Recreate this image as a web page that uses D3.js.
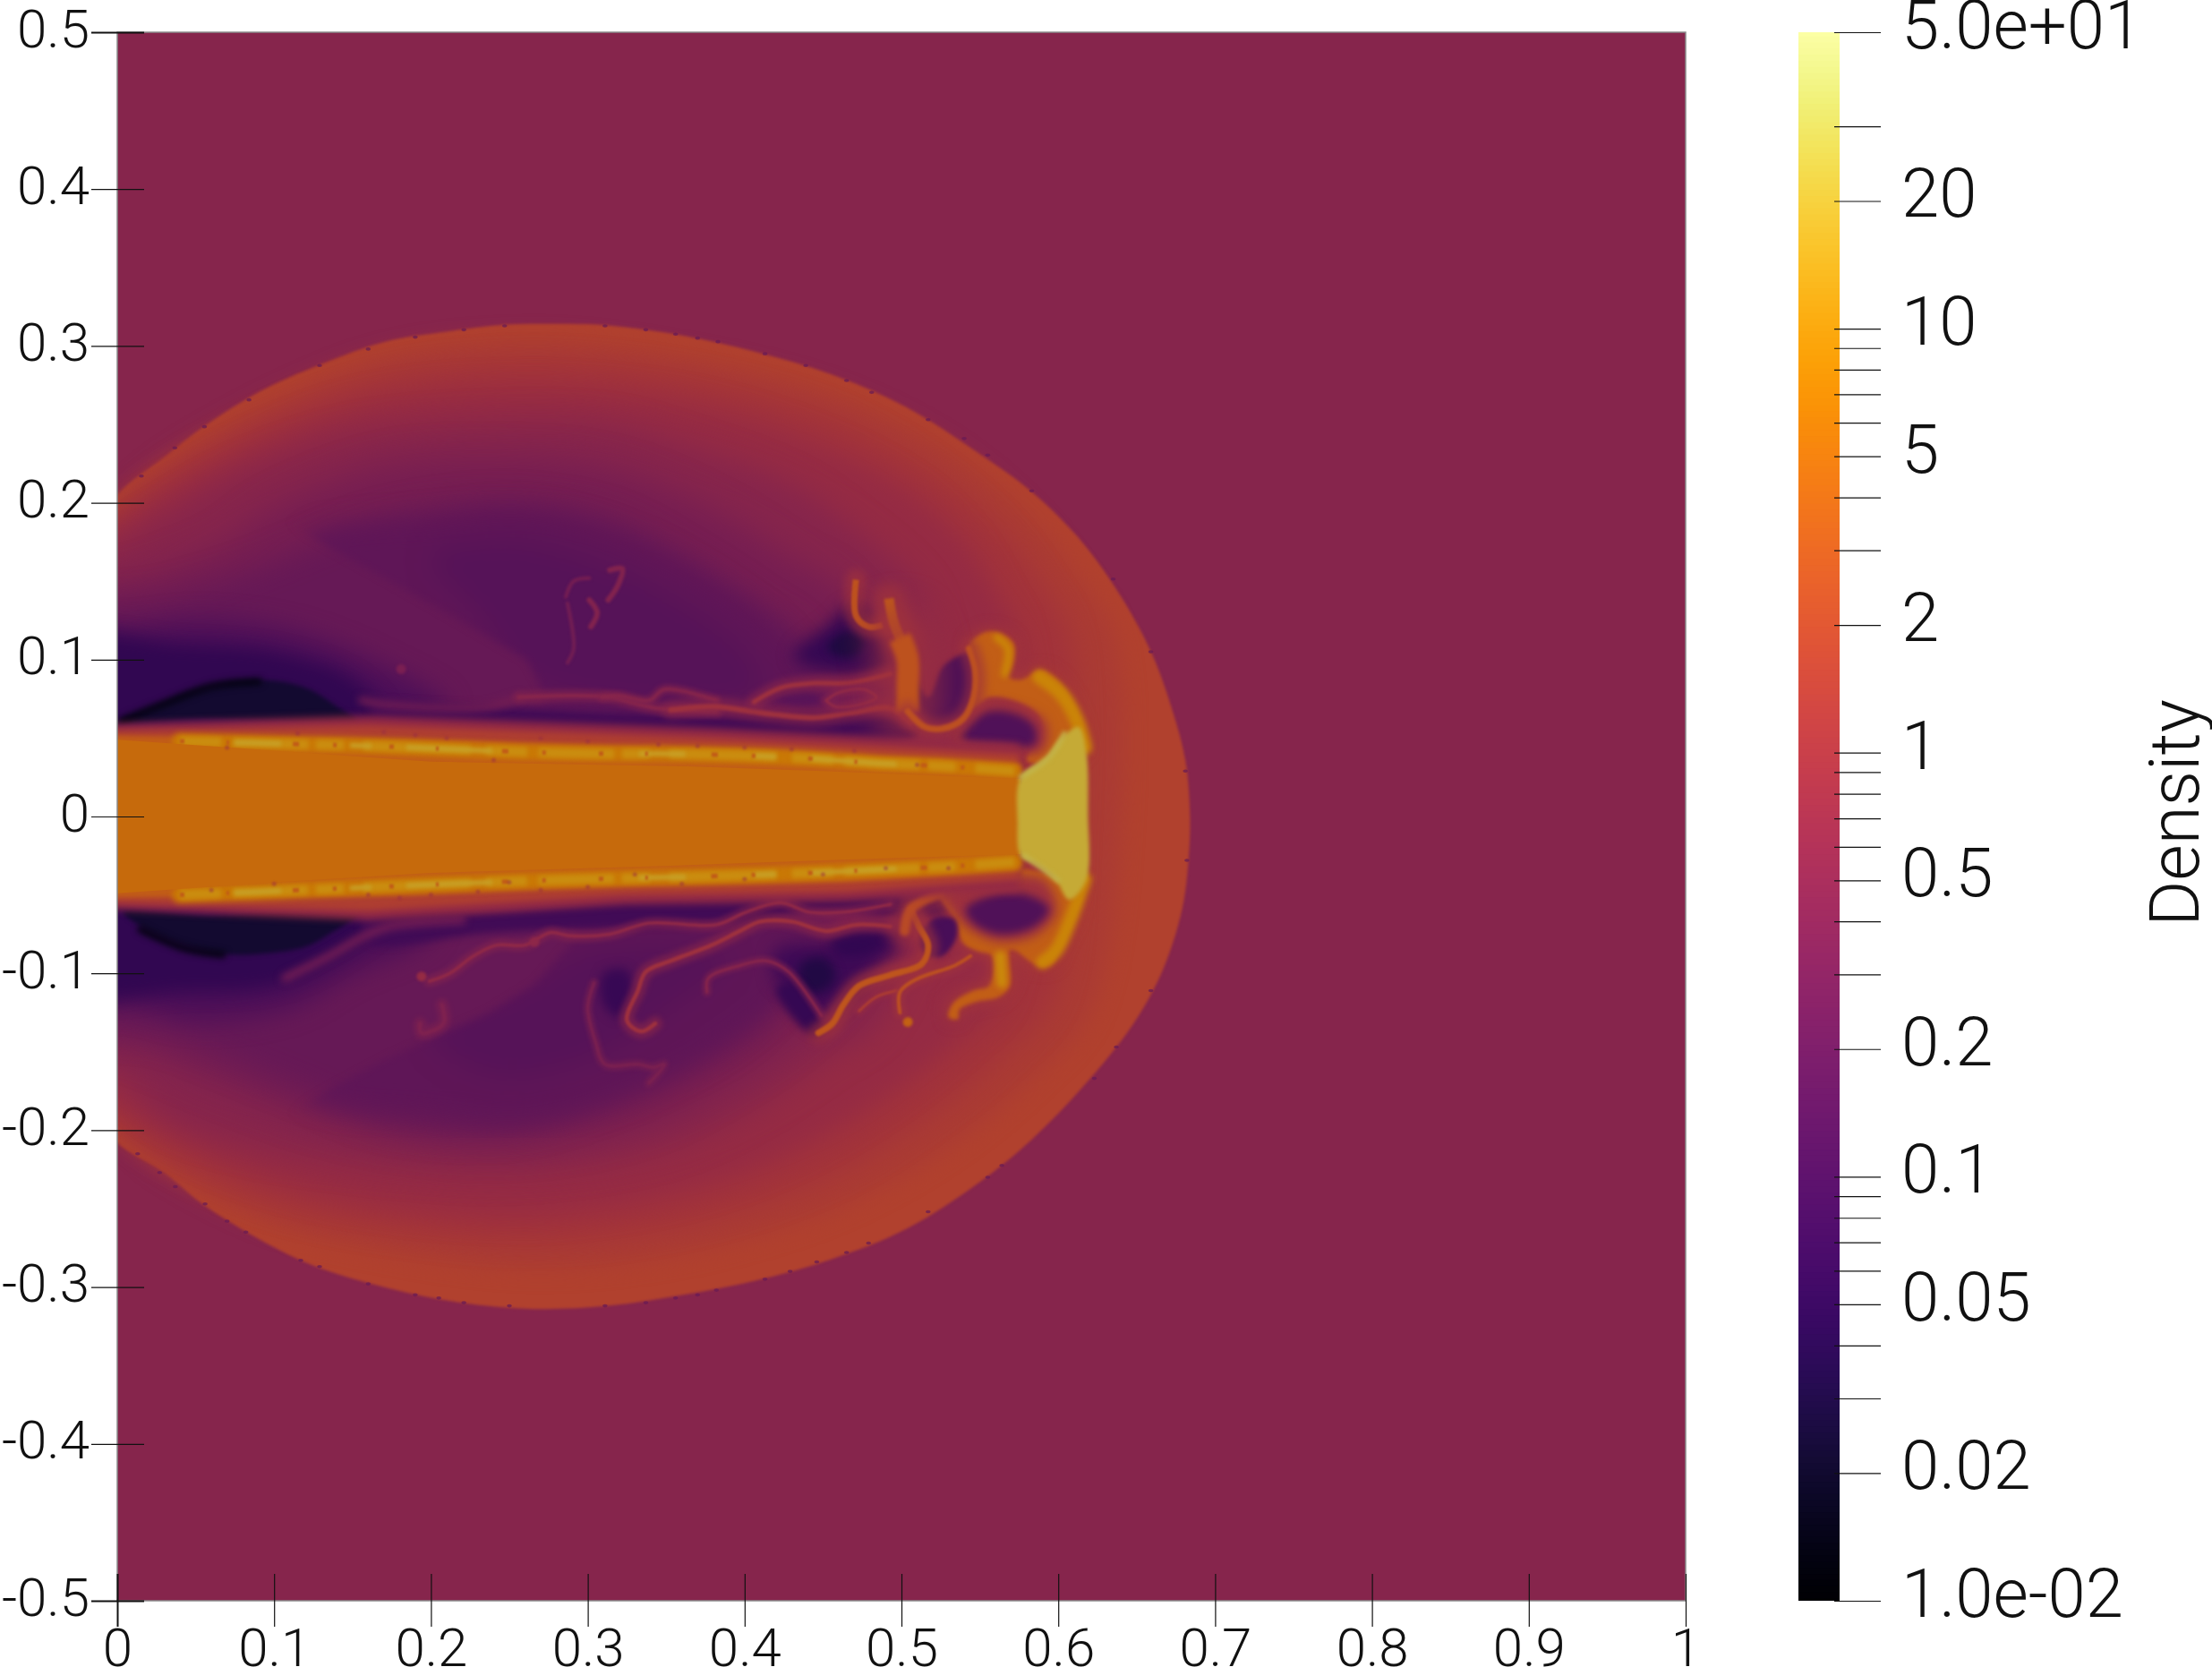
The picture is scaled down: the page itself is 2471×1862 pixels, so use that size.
<!DOCTYPE html>
<html><head><meta charset="utf-8">
<script src="https://cdn.jsdelivr.net/npm/d3@7"></script>
<style>html,body{margin:0;background:#fff}svg{display:block}text{font-family:Roboto,sans-serif;font-weight:300;fill:#111}</style>
</head><body><div id="c"></div>
<script>
// ---- axes / legend values ----
const xTickValues=[0,.1,.2,.3,.4,.5,.6,.7,.8,.9,1];
const yTickValues=[.5,.4,.3,.2,.1,0,-.1,-.2,-.3,-.4,-.5];
const colorTickValues=[50,30,20,10,9,8,7,6,5,4,3,2,1,.9,.8,.7,.6,.5,.4,.3,.2,.1,.09,.08,.07,.06,.05,.04,.03,.02,.01];
const colorLabelValues=[50,20,10,5,2,1,.5,.2,.1,.05,.02,.01];
const colorLabelText=["5.0e+01","20","10","5","2","1","0.5","0.2","0.1","0.05","0.02","1.0e-02"];
// ---- density ----
const ambientDensity=.46;
const shockFront=[[-.03,.16],[0,.205],[.03,.229],[.053,.247],[.091,.271],[.129,.288],[.172,.303],[.209,.309],[.247,.3135],[.285,.314],[.313,.313],[.361,.3065],[.408,.296],[.455,.282],[.503,.261],[.55,.231],[.583,.207],[.616,.174],[.642,.137],[.66,.103],[.672,.07],[.681,.036],[.684,0],[.683,-.028],[.679,-.059],[.667,-.097],[.648,-.132],[.616,-.172],[.583,-.206],[.55,-.233],[.503,-.263],[.455,-.2824],[.408,-.2957],[.361,-.305],[.313,-.312],[.266,-.314],[.219,-.31],[.172,-.3005],[.124,-.286],[.086,-.267],[.053,-.246],[.03,-.227],[0,-.208],[-.03,-.17]];
const shockSpecks=[[.0154,.217],[.0367,.235],[.0556,.2485],[.084,.2656],[.129,.2875],[.16,.298],[.19,.3056],[.221,.3103],[.247,.3128],[.311,.3128],[.337,.3103],[.356,.3075],[.37,.305],[.383,.3027],[.413,.295],[.439,.2875],[.465,.278],[.481,.2704],[.517,.253],[.54,.241],[.555,.2304],[.583,.2076],[.635,.1514],[.659,.105],[.681,.029],[.682,-.028],[.659,-.111],[.637,-.147],[.623,-.167],[.564,-.2225],[.555,-.23],[.517,-.252],[.479,-.272],[.465,-.278],[.446,-.284],[.429,-.29],[.413,-.295],[.382,-.302],[.37,-.305],[.356,-.307],[.337,-.31],[.311,-.312],[.25,-.312],[.221,-.31],[.205,-.307],[.19,-.305],[.16,-.298],[.129,-.287],[.117,-.283],[.082,-.265],[.07,-.258],[.056,-.247],[.037,-.236],[.027,-.227],[.013,-.215]];
const iso130=[[-.03,.17],[0,.2],[.03,.226],[.1,.266],[.171,.294],[.266,.304],[.361,.294],[.455,.271],[.526,.237],[.583,.19],[.616,.148],[.635,.117],[.64,0],[.621,-.124],[.583,-.168],[.526,-.214],[.455,-.252],[.361,-.279],[.266,-.288],[.171,-.277],[.1,-.26],[.03,-.225],[0,-.2],[-.03,-.18]];
const iso100=[[-.03,.17],[0,.195],[.034,.22],[.1,.256],[.171,.281],[.266,.29],[.361,.281],[.455,.256],[.517,.222],[.564,.182],[.592,.144],[.607,.117],[.61,0],[.597,-.115],[.564,-.153],[.517,-.191],[.455,-.229],[.361,-.26],[.266,-.271],[.171,-.263],[.1,-.248],[.039,-.222],[0,-.197],[-.03,-.175]];
const iso70=[[-.03,.165],[0,.186],[.039,.212],[.1,.243],[.171,.266],[.266,.273],[.361,.264],[.455,.235],[.512,.203],[.545,.169],[.564,.136],[.574,.117],[.58,0],[.564,-.115],[.54,-.14],[.493,-.178],[.432,-.214],[.361,-.24],[.266,-.254],[.171,-.248],[.1,-.233],[.039,-.208],[0,-.185],[-.03,-.165]];
const iso46=[[-.03,.155],[.001,.174],[.039,.197],[.077,.218],[.148,.243],[.242,.252],[.313,.25],[.361,.237],[.432,.21],[.479,.176],[.503,.155],[.517,.136],[.53,0],[.484,-.134],[.455,-.153],[.408,-.185],[.361,-.208],[.313,-.22],[.242,-.227],[.148,-.22],[.077,-.208],[.03,-.191],[0,-.165],[-.03,-.15]];
const iso30=[[-.03,.135],[.02,.155],[.067,.174],[.1,.197],[.171,.224],[.242,.229],[.313,.222],[.384,.193],[.432,.163],[.455,.151],[.48,.12],[.5,0],[.47,-.1],[.432,-.14],[.384,-.172],[.337,-.195],[.266,-.21],[.195,-.208],[.124,-.193],[.067,-.172],[.011,-.149],[-.03,-.135]];
const iso24=[[-.03,.125],[.03,.14],[.08,.155],[.13,.175],[.171,.19],[.247,.2],[.313,.19],[.361,.165],[.408,.135],[.44,.11],[.46,0],[.43,-.1],[.399,-.138],[.351,-.165],[.304,-.185],[.247,-.2],[.171,-.195],[.12,-.175],[.07,-.155],[.03,-.14],[-.03,-.125]];
const wedgeUpper=[[.12,.175],[.2,.19],[.26,.195],[.32,.18],[.38,.15],[.43,.11],[.45,.07],[.25,.07]];
const wedgeUpperInner=[[.2,.165],[.25,.175],[.31,.16],[.36,.135],[.4,.105],[.41,.08],[.27,.085],[.23,.13]];
const wedgeUpperEdge=[[.09,.2],[.096,.193],[.171,.152],[.227,.12],[.261,.1],[.27,.083],[.275,.05],[.6,.05],[.6,.3],[.09,.3]];
const wedgeLower=[[.12,-.175],[.2,-.19],[.26,-.195],[.32,-.18],[.38,-.15],[.43,-.11],[.45,-.07],[.27,-.07]];
const wedgeLowerInner=[[.2,-.14],[.24,-.165],[.3,-.155],[.35,-.125],[.39,-.09],[.3,-.085],[.26,-.11]];
const wedgeLowerEdge=[[.09,-.2],[.096,-.195],[.171,-.155],[.237,-.125],[.266,-.107],[.29,-.08],[.3,-.05],[.6,-.05],[.6,-.3],[.09,-.3]];
const cavityHaloUpper=[[-.03,.125],[0,.12],[.05,.125],[.11,.118],[.17,.095],[.21,.07],[.2,.055],[-.03,.05]];
const cavityDarkUpper=[[-.03,.112],[.04,.11],[.1,.105],[.15,.088],[.17,.065],[.16,.05],[-.03,.05]];
const cavityCoreUpper=[[0,.06],[.02,.068],[.05,.08],[.09,.087],[.12,.082],[.14,.07],[.153,.06],[.1,.061],[.05,.062]];
const cavityStripeUpper=[[.003,.061],[.03,.072],[.06,.083],[.09,.086]];
const cavityHaloLower=[[-.03,-.125],[0,-.12],[.05,-.13],[.11,-.122],[.15,-.1],[.2,-.075],[.2,-.055],[-.03,-.05]];
const cavityDarkLower=[[-.03,-.112],[.04,-.112],[.1,-.108],[.14,-.09],[.17,-.065],[.16,-.05],[-.03,-.05]];
const cavityCoreLower=[[.004,-.061],[.015,-.07],[.043,-.082],[.072,-.088],[.097,-.087],[.12,-.083],[.135,-.075],[.153,-.062],[.11,-.061],[.059,-.063]];
const cavityStripeLower=[[.015,-.072],[.043,-.084],[.067,-.088]];
const cocoonUpper=[[.161,.07],[.237,.07],[.314,.066],[.353,.065],[.397,.064],[.441,.065],[.495,.064],[.51,.053],[.497,.046],[.419,.046],[.353,.049],[.25,.053],[.17,.06]];
const cocoonLower=[[.158,-.062],[.237,-.06],[.353,-.05],[.46,-.046],[.53,-.046],[.53,-.06],[.44,-.06],[.41,-.066],[.35,-.069],[.24,-.074],[.16,-.08]];
const darkU1=[[.431,.102],[.453,.122],[.47,.135],[.487,.118],[.49,.095],[.453,.092]];
const darkU2=[[.453,.108],[.465,.118],[.476,.113],[.472,.103],[.46,.102]];
const lensU=[[.419,.076],[.441,.08],[.447,.073],[.43,.07]];
const darkL2=[[.42,-.085],[.45,-.08],[.49,-.07],[.5,-.08],[.48,-.1],[.46,-.12],[.445,-.128],[.44,-.115],[.42,-.105]];
const darkL1=[[.435,-.095],[.45,-.09],[.458,-.1],[.453,-.11],[.44,-.112]];
const darkL3=[[.455,-.08],[.475,-.075],[.49,-.078],[.48,-.087],[.46,-.088]];
const darkL4=[[.42,-.11],[.432,-.105],[.45,-.132],[.447,-.14],[.437,-.135]];
const darkL5=[[.31,-.1],[.325,-.098],[.328,-.115],[.32,-.128],[.31,-.12]];
const mantleUpper=[[.543,.109],[.556,.118],[.571,.111],[.571,.098],[.568,.089],[.576,.087],[.589,.093],[.6,.086],[.607,.076],[.613,.062],[.616,.043],[.594,.034],[.58,.036],[.589,.053],[.587,.065],[.572,.074],[.556,.076],[.546,.069],[.548,.083],[.546,.102]];
const mantleLower=[[.613,-.049],[.609,-.066],[.602,-.08],[.596,-.094],[.587,-.095],[.572,-.085],[.569,-.085],[.569,-.108],[.562,-.115],[.548,-.118],[.537,-.123],[.536,-.129],[.53,-.128],[.533,-.119],[.546,-.111],[.556,-.108],[.558,-.089],[.546,-.085],[.539,-.08],[.535,-.066],[.524,-.048],[.58,-.034]];
const pocketUpper=[[.508,.088],[.517,.076],[.526,.095],[.532,.1],[.543,.104],[.546,.083],[.541,.067],[.528,.059],[.516,.06],[.509,.069]];
const pocketLower=[[.522,-.064],[.534,-.066],[.535,-.077],[.526,-.089],[.517,-.089],[.512,-.082],[.513,-.073]];
const lobeHeadUpper=[[.536,.052],[.552,.072],[.574,.07],[.592,.06],[.59,.042],[.563,.04],[.534,.044]];
const cocoonHeadUpper=[[.541,.057],[.556,.067],[.574,.065],[.585,.057],[.585,.046],[.563,.046],[.539,.049]];
const lobeHeadLower=[[.528,-.05],[.56,-.04],[.59,-.04],[.599,-.06],[.587,-.075],[.563,-.08],[.545,-.073],[.534,-.063]];
const cocoonHeadLower=[[.541,-.059],[.563,-.049],[.583,-.051],[.594,-.059],[.585,-.07],[.563,-.075],[.546,-.068]];
const swirlLower=[[.53,-.108],[.55,-.108],[.54,-.12],[.525,-.125],[.52,-.118]];
// filaments
const fingerA=[[.471,.151],[.471,.128],[.479,.121],[.488,.122]];
const fingerTop=[[.492,.139],[.495,.124],[.5,.112]];
const fingerStem=[[.499,.114],[.504,.1],[.504,.083],[.504,.067]];
const fingerArc=[[.504,.067],[.515,.057],[.526,.056],[.539,.062],[.546,.076],[.547,.093],[.543,.107]];
const wispU1=[[.256,.076],[.288,.077],[.314,.076],[.344,.069],[.382,.067]];
const wispU2=[[.309,.076],[.319,.077],[.339,.074],[.349,.081],[.382,.074]];
const wakeU=[[.156,.074],[.174,.071],[.237,.07],[.256,.076]];
const wakeL=[[.107,-.103],[.135,-.089],[.158,-.076],[.174,-.07],[.22,-.066]];
const filU1=[[.353,.068],[.38,.07],[.404,.067],[.419,.065],[.445,.063],[.467,.066],[.493,.069],[.506,.06]];
const filU2=[[.406,.073],[.423,.082],[.445,.085],[.467,.085],[.493,.091]];
const filU3=[[.452,.074],[.46,.079],[.476,.081],[.484,.076],[.476,.072],[.458,.07],[.452,.074]];
const curlU1=[[.286,.14],[.291,.15],[.301,.152]];
const curlU2=[[.301,.138],[.306,.13],[.302,.121]];
const curlU3=[[.287,.136],[.291,.107],[.287,.098]];
const curlU4=[[.314,.157],[.322,.158],[.319,.147],[.313,.138]];
const filLa=[[.199,-.105],[.212,-.1],[.227,-.089],[.242,-.082],[.26,-.082],[.276,-.074],[.288,-.076],[.314,-.075],[.339,-.068],[.382,-.069],[.401,-.061],[.423,-.055],[.441,-.061],[.463,-.061],[.493,-.056]];
const filLc=[[.343,-.132],[.334,-.137],[.325,-.13],[.332,-.111],[.337,-.099],[.353,-.092],[.379,-.082],[.397,-.073],[.41,-.067],[.43,-.067],[.452,-.073],[.471,-.069],[.493,-.07]];
const filL3=[[.376,-.112],[.377,-.103],[.397,-.095],[.414,-.092],[.428,-.099],[.449,-.127]];
const filL4=[[.447,-.138],[.456,-.132],[.463,-.12],[.473,-.108],[.493,-.101],[.513,-.094],[.517,-.082],[.511,-.07],[.506,-.059]];
const filL4b=[[.502,-.073],[.506,-.059],[.524,-.049]];
const filL5=[[.499,-.125],[.499,-.112],[.509,-.104],[.534,-.095],[.544,-.089]];
const filL6=[[.473,-.124],[.484,-.115],[.497,-.111]];
const filL7=[[.304,-.106],[.3,-.122],[.305,-.144],[.311,-.158],[.332,-.158],[.342,-.16],[.349,-.158],[.339,-.17]];
const curlL=[[.207,-.12],[.208,-.132],[.194,-.138],[.193,-.132]];
const blobs=[[.181,.094,.33],[.194,-.102,.7],[.504,-.131,4],[.266,-.08,.55]];
// jet
const sheathOuter=[[-.03,.058],[.16,.064],[.38,.056],[.575,.046],[.575,-.048],[.464,-.054],[.324,-.056],[.16,-.066],[-.03,-.058]];
const sheathRed=[[-.03,.054],[.16,.058],[.38,.05],[.575,.04],[.575,-.04],[.464,-.048],[.324,-.05],[.16,-.06],[-.03,-.054]];
const sheathOrange=[[-.03,.052],[.186,.049],[.38,.043],[.575,.033],[.575,-.034],[.464,-.0415],[.324,-.044],[.186,-.05],[-.03,-.052]];
const stripeUpper=[[.04,.048],[.12,.046],[.161,.045],[.212,.043],[.263,.041],[.314,.04],[.353,.04],[.397,.039],[.441,.037],[.484,.034],[.528,.032],[.572,.029]];
const stripeLower=[[.04,-.05],[.115,-.047],[.212,-.043],[.263,-.041],[.339,-.039],[.382,-.038],[.441,-.036],[.484,-.034],[.528,-.032],[.572,-.029]];
const sheathSpecks=[[.07,.044],[.115,.053],[.17,.054],[.19,.052],[.21,.05],[.24,.036],[.27,.05],[.3,.048],[.345,.046],[.37,.045],[.4,.044],[.43,.043],[.47,.042],[.51,.033],[.06,-.047],[.1,-.043],[.16,-.05],[.18,-.052],[.2,-.05],[.23,-.048],[.25,-.042],[.27,-.047],[.3,-.045],[.33,-.037],[.36,-.043],[.4,-.04],[.45,-.037],[.49,-.033],[.53,-.033]];
const jetCore=[[0,.049],[.1,.042],[.2,.035],[.364,.032],[.45,.029],[.576,.024],[.576,-.024],[.45,-.028],[.364,-.031],[.2,-.036],[.1,-.042],[0,-.049]];
const jetHead=[[.576,.025],[.593,.038],[.602,.05],[.613,.057],[.618,.04],[.619,.002],[.618,-.04],[.607,-.053],[.598,-.04],[.585,-.03],[.576,-.025],[.574,-.003]];
const hotspotU=[[.576,.025],[.594,.038],[.604,.053]];
const hotspotL=[[.578,-.025],[.591,-.034],[.6,-.041]];
const rimUpper=[[.588,.089],[.602,.078],[.612,.061],[.617,.044]];
const rimLower=[[.617,-.04],[.607,-.068],[.599,-.085],[.59,-.093]];
const brightU2=[[.561,.114],[.568,.107],[.566,.091]];
const brightL2=[[.563,-.089],[.564,-.106]];

// ---- layout ----
const W=2471,H=1862,L=131,R=1883,T=36,B=1788;
const x=d3.scaleLinear().domain([0,1]).range([L,R]);
const y=d3.scaleLinear().domain([.5,-.5]).range([T,B]);
const cy=d3.scaleLog().domain([50,.01]).range([T,B]);
const ct=d3.scaleLog().domain([.01,50]).range([0,1]);
const shade=.8;
const fieldColor=d=>{const c=d3.rgb(d3.interpolateInferno(ct(d)));return d3.rgb(c.r*shade,c.g*shade,c.b*shade).formatRgb();};
const svg=d3.select("#c").append("svg").attr("width",W).attr("height",H);
const defs=svg.append("defs");
defs.append("clipPath").attr("id","plot").append("rect").attr("x",L).attr("y",T).attr("width",R-L).attr("height",B-T);
function blurId(b){
  const id="b"+String(b).replace(".","_");
  if(defs.select("#"+id).empty()){
    defs.append("filter").attr("id",id).attr("filterUnits","userSpaceOnUse").attr("x",0).attr("y",0).attr("width",W).attr("height",H)
      .attr("color-interpolation-filters","sRGB").append("feGaussianBlur").attr("stdDeviation",b);
  }
  return "url(#"+id+")";
}
const field=svg.append("g").attr("clip-path","url(#plot)");
field.append("rect").attr("x",L).attr("y",T).attr("width",R-L).attr("height",B-T).attr("fill",fieldColor(ambientDensity));
const closed=d3.line().x(d=>x(d[0])).y(d=>y(d[1])).curve(d3.curveCatmullRomClosed.alpha(.5));
const sharp=d3.line().x(d=>x(d[0])).y(d=>y(d[1])).curve(d3.curveLinearClosed);
const open=d3.line().x(d=>x(d[0])).y(d=>y(d[1])).curve(d3.curveCatmullRom.alpha(.5));
function band(pts,dens,blur,gen=closed,host=field){
  const p=host.append("path").attr("d",gen(pts)).attr("fill",fieldColor(dens));
  if(blur)p.attr("filter",blurId(blur));
}
function wisp(pts,dens,w,blur=1,cap="round",dash=null,op=1){
  const p=field.append("path").attr("d",open(pts)).attr("fill","none").attr("stroke",fieldColor(dens))
    .attr("stroke-width",w).attr("stroke-linecap",cap).attr("stroke-linejoin","round").attr("filter",blurId(blur)).attr("opacity",op);
  if(dash)p.attr("stroke-dasharray",dash);
}
function halo(a){ // soft fringe first, then the filament itself
  wisp(a[0],Math.sqrt(a[1]*.35),a[2]*3+2,Math.max(2,a[2]*.7),"round",null,.6);
  wisp(...a);
}
function edged(id,edge,layers){
  defs.append("clipPath").attr("id",id).append("path").attr("d",sharp(edge));
  const outer=field.append("g").attr("filter",blurId(4));
  const inner=outer.append("g").attr("clip-path","url(#"+id+")");
  layers.forEach(l=>band(l[0],l[1],l[2],closed,inner));
}
// layered field, outer to inner
band(shockFront,1.66,1.5);
band(iso130,1.35,12);band(iso100,1.0,14);band(iso70,.7,15);band(iso46,.46,16);band(iso30,.3,17);band(iso24,.2,16);
edged("eu",wedgeUpperEdge,[[wedgeUpper,.165,13],[wedgeUpperInner,.13,14]]);
edged("el",wedgeLowerEdge,[[wedgeLower,.165,13],[wedgeLowerInner,.13,14]]);
band(cavityHaloUpper,.1,14);band(cavityDarkUpper,.05,10);band(cavityHaloLower,.1,14);band(cavityDarkLower,.05,10);
band(cocoonUpper,.075,4);band(cocoonLower,.075,4);
band(darkU1,.055,9);band(darkU2,.033,5);band(lensU,.14,3);
band(darkL2,.07,9);band(darkL1,.035,6);band(darkL3,.05,6);band(darkL4,.055,5);band(darkL5,.06,6);
band(cavityCoreUpper,.024,2.5);band(cavityCoreLower,.024,2.5);
wisp(cavityStripeUpper,.014,8,3.5);wisp(cavityStripeLower,.014,8,3.5);
[[wakeU,.28,8,4],[wakeL,.27,9,4],[curlU1,.3,4,1.5],[curlU2,.42,6,1.5],[curlU3,.28,4,1.5],[curlU4,.42,6,1.5]].forEach(a=>wisp(...a));
[[wispU1,.5,4,1.5],[wispU2,.5,3,1.5],[filU1,.9,6,1.5],[filU2,.9,5,1.5],[filU3,.6,3,1],[filLa,.6,3.5,1],[filLc,.9,4.5,1],[filL3,.5,2.5,1],[filL7,.36,2.5,1],[curlL,.4,4,1.5],[filL6,1.5,3,.8]].forEach(halo);
blobs.forEach(b=>field.append("circle").attr("cx",x(b[0])).attr("cy",y(b[1])).attr("r",5.5).attr("fill",fieldColor(b[2])).attr("filter",blurId(1.5)));
band(swirlLower,.7,3);
band(mantleUpper,1.5,9);band(mantleLower,1.5,9);
band(mantleUpper,3.8,2);band(mantleLower,3.8,2);
band(lobeHeadUpper,.9,6);band(lobeHeadLower,.9,6);
band(cocoonHeadUpper,.11,5);band(cocoonHeadLower,.11,5);
band(pocketUpper,.09,2.5);band(pocketLower,.09,2.5);
[[fingerA,2.8,7,1.2,"butt"],[fingerTop,3.6,11,1.5,"butt"],[fingerStem,2.8,25,2.5,"butt"],[fingerArc,2.6,7,1.5],[filL4,3,7,1.2],[filL4b,2.2,11,2],[filL5,2.6,4,1]].forEach(halo);
[[rimUpper,9,16,3],[rimLower,9,15,3],[brightU2,9,9,3],[brightL2,10,12,3]].forEach(a=>wisp(...a));
band(sheathOuter,.7,4,sharp);band(sheathRed,1.5,3,sharp);band(sheathOrange,3.6,2.5,sharp);
[stripeUpper,stripeLower].forEach(s=>{
  wisp(s,7,18,3);
  wisp(s,11,10,2.5,"butt","46 13 84 9 31 22 120 17");
  wisp(s,17,5,2,"butt","0 61 52 77 24 39 96 103");
  wisp(s,3.5,5,1.2,"butt","5 47 3 71 7 38 4 59");
});
band(jetCore,5.2,.5,sharp);
field.append("g").selectAll("circle").data(sheathSpecks).join("circle").attr("cx",d=>x(d[0])).attr("cy",d=>y(d[1])).attr("r",2.5)
  .attr("fill",fieldColor(.8)).attr("opacity",.5).attr("filter",blurId(.8));
band(jetHead,21,2);
wisp(hotspotU,28,5,2.5);wisp(hotspotL,28,5,2.5);
field.append("g").selectAll("ellipse").data(shockSpecks).join("ellipse").attr("cx",d=>x(d[0])).attr("cy",d=>y(d[1])).attr("rx",2.8).attr("ry",1.8)
  .attr("fill",fieldColor(.2)).attr("opacity",.7);

// frame
svg.append("rect").attr("x",L).attr("y",T).attr("width",R-L).attr("height",B-T).attr("fill","none").attr("stroke","#8a8a8a").attr("stroke-width",1.5);
// axes
const LBL=60;
const yAxis=d3.axisLeft(y).tickValues(yTickValues).tickSizeInner(59).tickSizeOuter(0).tickPadding(2).tickFormat(d=>String(d));
const yg=svg.append("g").attr("transform","translate(161,0)").call(yAxis);
yg.select(".domain").remove();
yg.selectAll("line").attr("stroke","#111").attr("stroke-width",d=>Math.abs(d)==.5?2:1.2);
yg.selectAll("text").attr("font-size",LBL).attr("font-family",null).attr("dy",null).attr("y",16);
const xAxis=d3.axisBottom(x).tickValues(xTickValues).tickSizeInner(59).tickSizeOuter(0).tickFormat(d=>String(d));
const xg=svg.append("g").attr("transform","translate(0,1758)").call(xAxis);
xg.select(".domain").remove();
xg.selectAll("line").attr("stroke","#111").attr("stroke-width",d=>d==0?2:1.2);
xg.selectAll("text").attr("font-size",LBL).attr("font-family",null).attr("dy",null).attr("y",103);
// colour bar
const CX0=2009,CX1=2055;
const ramp=d3.range(0,256).map(i=>.01*Math.pow(5000,i/255));
const rampBand=(B-T)/255;
svg.append("g").selectAll("rect").data(ramp).join("rect")
  .attr("x",CX0).attr("width",CX1-CX0).attr("y",d=>cy(d)-rampBand/2).attr("height",rampBand+1)
  .attr("fill",d=>d3.interpolateInferno(ct(d)));
svg.append("rect").attr("x",CX0-1).attr("y",B).attr("width",CX1-CX0+2).attr("height",6).attr("fill","#fff");
svg.append("rect").attr("x",CX0-1).attr("y",T-7).attr("width",CX1-CX0+2).attr("height",7).attr("fill","#fff");
const cAxis=d3.axisRight(cy).tickValues(colorTickValues).tickSizeInner(52).tickSizeOuter(0).tickFormat("");
const cg=svg.append("g").attr("transform","translate(2049,0)").call(cAxis);
cg.select(".domain").remove();
cg.selectAll("line").attr("stroke","#111").attr("stroke-width",1.2);
svg.append("g").selectAll("text").data(colorLabelValues).join("text")
  .attr("x",2124).attr("y",d=>cy(d)+18).attr("font-size",76).text((d,i)=>colorLabelText[i]);
svg.append("text").attr("transform","translate(2456,908) rotate(-90)").attr("text-anchor","middle").attr("font-size",78).text("Density");
</script></body></html>
